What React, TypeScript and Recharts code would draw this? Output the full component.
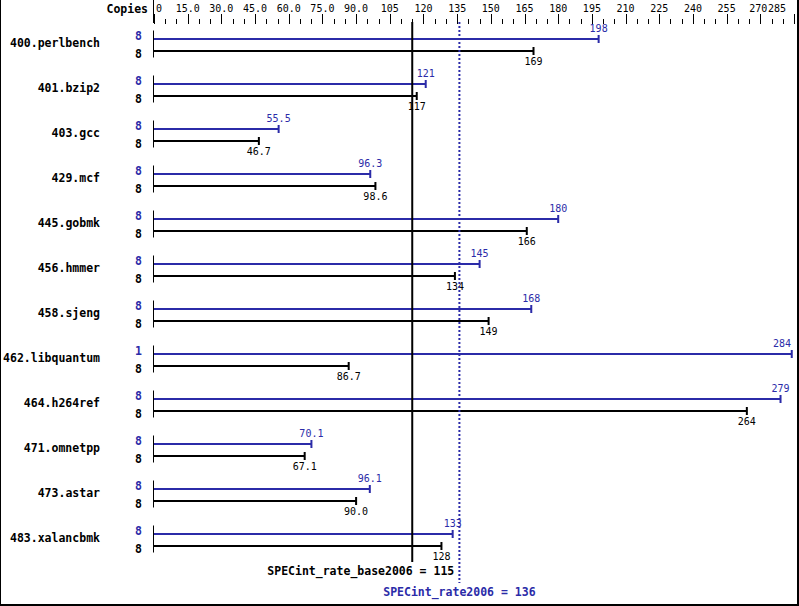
import { BarChart, Bar, XAxis, YAxis, ReferenceLine } from "recharts";

// benchmark names, copies and ratios
const benchmarks = [
  "400.perlbench",
  "401.bzip2",
  "403.gcc",
  "429.mcf",
  "445.gobmk",
  "456.hmmer",
  "458.sjeng",
  "462.libquantum",
  "464.h264ref",
  "471.omnetpp",
  "473.astar",
  "483.xalancbmk",
];
const peakCopies = [8, 8, 8, 8, 8, 8, 8, 1, 8, 8, 8, 8];
const baseCopies = [8, 8, 8, 8, 8, 8, 8, 8, 8, 8, 8, 8];
const peakRatio = [198, 121, 55.5, 96.3, 180, 145, 168, 284, 279, 70.1, 96.1, 133];
const baseRatio = [169, 117, 46.7, 98.6, 166, 134, 149, 86.7, 264, 67.1, 90.0, 128];

const axisTicks = Array.from({ length: 58 }, (_, i) => i * 5); // 0..285 every 5
const baseMean = 115;
const peakMean = 136;

const data = benchmarks.map((name, i) => ({
  name,
  peak: peakRatio[i],
  base: baseRatio[i],
}));

const BLUE = "#2b2ba8";
const FONT = "'DejaVu Sans Mono', monospace";

const fmt = (v: number) => (v >= 100 ? String(Math.round(v)) : v.toFixed(1));

function TopTick(props: any) {
  const { x, payload } = props;
  const v = payload.value as number;
  const major = v % 15 === 0;
  const px = Math.round(x) + 0.5;
  let label = null;
  if (major) {
    const txt = v === 0 ? "0" : v < 100 ? v.toFixed(1) : String(v);
    let anchor = "middle";
    let tx = x;
    if (v === 0) {
      anchor = "start";
      tx = x + 2;
    } else if (v === 285) {
      anchor = "end";
      tx = x - 8;
    } else if (v === 270) {
      tx = x - 2;
    }
    label = (
      <text x={tx} y={12} textAnchor={anchor} fontSize={10} fontFamily={FONT} fill="#000">
        {txt}
      </text>
    );
  }
  return (
    <g>
      {v === 0 && (
        <>
          <line x1={px - 1} x2={px - 1} y1={0} y2={23} stroke="#000" />
          <text
            x={x - 6}
            y={13}
            textAnchor="end"
            fontSize={11.5}
            fontWeight="bold"
            fontFamily={FONT}
            fill="#000"
          >
            Copies
          </text>
        </>
      )}
      <line x1={px} x2={px} y1={major ? 14 : 19} y2={24} stroke="#000" />
      {label}
    </g>
  );
}

function NameTick(props: any) {
  const { y, index } = props;
  return (
    <g fontFamily={FONT} fontWeight="bold" fontSize={11.5}>
      <text x={100} y={y + 2} textAnchor="end" fill="#000">
        {benchmarks[index]}
      </text>
      <text x={142} y={y - 5} textAnchor="end" fill={BLUE}>
        {peakCopies[index]}
      </text>
      <text x={142} y={y + 13} textAnchor="end" fill="#000">
        {baseCopies[index]}
      </text>
      <line x1={153.5} x2={153.5} y1={y - 14} y2={y + 13} stroke="#000" />
    </g>
  );
}

function makeShape(color: string, key: "peak" | "base", below: boolean) {
  return (props: any) => {
    const { x, y, width, height, payload } = props;
    const end = x + width;
    return (
      <g>
        <rect x={x} y={y} width={width} height={height} fill={color} />
        <rect x={end - 1} y={y - 3} width={2} height={height + 6} fill={color} />
        <text
          x={Math.min(end, 782)}
          y={below ? y + height + 13 : y - 6}
          textAnchor="middle"
          fontSize={10}
          fontFamily={FONT}
          fill={color}
        >
          {fmt(payload[key])}
        </text>
      </g>
    );
  };
}

export default function App() {
  return (
    <div style={{ position: "absolute", left: 0, top: 0, width: 799, height: 606, background: "#fff" }}>
      <BarChart
        width={799}
        height={606}
        data={data}
        layout="vertical"
        margin={{ top: 0, right: 5, bottom: 44, left: 0 }}
        barSize={2}
        barGap={10}
      >
        <XAxis
          type="number"
          orientation="top"
          domain={[0, 285]}
          ticks={axisTicks}
          interval={0}
          height={22}
          axisLine={false}
          tickLine={false}
          tick={<TopTick />}
        />
        <YAxis
          type="category"
          dataKey="name"
          width={154}
          axisLine={false}
          tickLine={false}
          interval={0}
          tick={<NameTick />}
        />
        <ReferenceLine
          x={baseMean}
          stroke="#000"
          strokeWidth={2}
          label={(p: any) => (
            <text
              x={p.viewBox.x + 42}
              y={575}
              textAnchor="end"
              fontFamily={FONT}
              fontWeight="bold"
              fontSize={11.5}
              fill="#000"
            >
              {`SPECint_rate_base2006 = ${baseMean}`}
            </text>
          )}
        />
        <ReferenceLine
          x={peakMean}
          shape={(p: any) => (
            <line
              x1={p.x1}
              x2={p.x2}
              y1={p.y1}
              y2={p.y2 + 21}
              stroke={BLUE}
              strokeWidth={2}
              strokeDasharray="2 2"
            />
          )}
          label={(p: any) => (
            <text
              x={p.viewBox.x}
              y={596}
              textAnchor="middle"
              fontFamily={FONT}
              fontWeight="bold"
              fontSize={11.5}
              fill={BLUE}
            >
              {`SPECint_rate2006 = ${peakMean}`}
            </text>
          )}
        />
        <Bar dataKey="peak" fill={BLUE} isAnimationActive={false} shape={makeShape(BLUE, "peak", false)} />
        <Bar dataKey="base" fill="#000" isAnimationActive={false} shape={makeShape("#000", "base", true)} />
      </BarChart>
      <div
        style={{
          position: "absolute",
          left: 0,
          top: 0,
          width: 799,
          height: 606,
          boxSizing: "border-box",
          borderLeft: "1px solid #000",
          borderRight: "2px solid #000",
          borderBottom: "2px solid #000",
          pointerEvents: "none",
        }}
      />
    </div>
  );
}
